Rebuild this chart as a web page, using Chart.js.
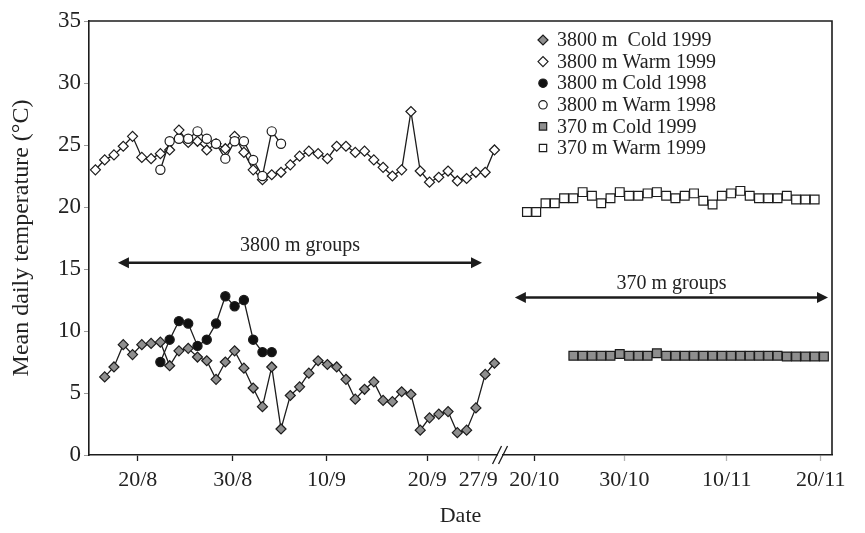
<!DOCTYPE html>
<html><head><meta charset="utf-8">
<style>html,body{margin:0;padding:0;background:#fff}#wrap{width:865px;height:533px;position:relative}</style>
<script src="https://cdn.jsdelivr.net/npm/chart.js@4.4.0/dist/chart.umd.min.js"></script>
</head><body><div id="wrap"><canvas id="c" width="865" height="533"></canvas></div>
<script>
// ---- data (day index on a broken axis) ----
const cold1999_3800 = [6.3,7.1,8.9,8.1,8.9,9.0,9.1,7.2,8.4,8.6,7.9,7.6,6.1,7.5,8.4,7.0,5.4,3.9,7.1,2.1,4.8,5.5,6.6,7.6,7.3,7.1,6.1,4.5,5.3,5.9,4.4,4.3,5.1,4.9,2.0,3.0,3.3,3.5,1.8,2.0,3.8,6.5,7.4];
const warm1999_3800 = [23.0,23.8,24.2,24.9,25.7,24.0,23.9,24.3,24.6,26.2,25.2,25.3,24.6,25.1,24.7,25.7,24.4,23.0,22.2,22.6,22.8,23.4,24.1,24.5,24.3,23.9,24.9,24.9,24.4,24.5,23.8,23.2,22.5,23.0,27.7,22.9,22.0,22.4,22.9,22.1,22.3,22.8,22.8,24.6];
const cold1998_3800 = [7.5,9.3,10.8,10.6,8.8,9.3,10.6,12.8,12.0,12.5,9.3,8.3,8.3];
const warm1998_3800 = [23.0,25.3,25.5,25.5,26.1,25.5,25.1,23.9,25.3,25.3,23.8,22.5,26.1,25.1];
const cold1999_370 = [8.0,8.0,8.0,8.0,8.0,8.15,8.0,8.0,8.0,8.2,8.0,8.0,8.0,8.0,8.0,8.0,8.0,8.0,8.0,8.0,8.0,8.0,8.0,7.95,7.95,7.95,7.95,7.95];
const warm1999_370 = [19.6,19.6,20.3,20.3,20.7,20.7,21.2,20.9,20.3,20.7,21.2,20.9,20.9,21.1,21.2,20.9,20.7,20.9,21.1,20.5,20.2,20.9,21.1,21.3,20.9,20.7,20.7,20.7,20.9,20.6,20.6,20.6];
// first day index of each series (370 m series sit after the axis break)
const breakStart = 45.5;
const startCold1999_3800 = 0, startWarm1999_3800 = -1, startCold1998 = 6, startWarm1998 = 6;
const startWarm370 = breakStart, startCold370 = breakStart + 5;
const tickPositions = [3.56,13.8,23.9,34.76,40.26,46.29,56.0,67.03,77.16];
const tickLabels = ['20/8','30/8','10/9','20/9','27/9','20/10','30/10','10/11','20/11'];
const yTicks = [0,5,10,15,20,25,30,35];
const breakAt = 42.6;
const groupArrows = [
  {label:'3800 m groups', from:1.43, to:40.66, y:15.5, labelY:16.9},
  {label:'370 m groups', from:44.2, to:77.94, y:12.7, labelY:13.8}
];
const legendLabels = ['3800 m  Cold 1999','3800 m Warm 1999','3800 m Cold 1998','3800 m Warm 1998','370 m Cold 1999','370 m Warm 1999'];

const toPts = (arr, s) => arr.map((v,i)=>({x:s+i, y:v}));
const INK = '#1c1c1c', GREY = '#8e8e8e';
const FONT = '"Liberation Serif","Times New Roman",serif';

function ds(label, data, style, fill, r) {
  return {label, data, borderColor: INK, borderWidth: 1.3, pointStyle: style,
    pointRadius: r, pointHoverRadius: r, pointBackgroundColor: fill, pointBorderColor: INK,
    pointBorderWidth: 1.2, tension: 0, fill: false};
}
const datasets = [
  ds(legendLabels[2], toPts(cold1998_3800, startCold1998), 'circle', '#111', 4.6),
  ds(legendLabels[3], toPts(warm1998_3800, startWarm1998), 'circle', '#fff', 4.6),
  ds(legendLabels[0], toPts(cold1999_3800, startCold1999_3800), 'rectRot', GREY, 5),
  ds(legendLabels[1], toPts(warm1999_3800, startWarm1999_3800), 'rectRot', '#fff', 5),
  ds(legendLabels[4], toPts(cold1999_370, startCold370), 'rect', GREY, 6.2),
  ds(legendLabels[5], toPts(warm1999_370, startWarm370), 'rect', '#fff', 6.2)
];
const legendOrder = [2,3,0,1,4,5];

const decor = {
  id: 'decor',
  afterDatasetsDraw(chart) {
    const {ctx, chartArea: a, scales: {x, y}} = chart;
    ctx.save();
    // frame
    ctx.strokeStyle = INK; ctx.lineWidth = 1.6;
    ctx.beginPath(); ctx.moveTo(a.left, a.top); ctx.lineTo(a.right, a.top); ctx.lineTo(a.right, a.bottom); ctx.stroke();
    // axis break
    const bx = x.getPixelForValue(breakAt), by = a.bottom;
    ctx.fillStyle = '#fff'; ctx.fillRect(bx - 2, by - 2, 4, 4);
    ctx.lineWidth = 1.3; ctx.beginPath();
    [-3, 3].forEach(d => { ctx.moveTo(bx + d - 4.5, by + 9); ctx.lineTo(bx + d + 4.5, by - 9); });
    ctx.stroke();
    // group arrows
    groupArrows.forEach(g => {
      const x1 = x.getPixelForValue(g.from), x2 = x.getPixelForValue(g.to), yy = y.getPixelForValue(g.y);
      ctx.strokeStyle = INK; ctx.fillStyle = INK; ctx.lineWidth = 2.6;
      ctx.beginPath(); ctx.moveTo(x1 + 6, yy); ctx.lineTo(x2 - 6, yy); ctx.stroke();
      ctx.beginPath(); ctx.moveTo(x1, yy); ctx.lineTo(x1 + 11, yy - 5.5); ctx.lineTo(x1 + 11, yy + 5.5); ctx.closePath(); ctx.fill();
      ctx.beginPath(); ctx.moveTo(x2, yy); ctx.lineTo(x2 - 11, yy - 5.5); ctx.lineTo(x2 - 11, yy + 5.5); ctx.closePath(); ctx.fill();
      ctx.font = '20px ' + FONT; ctx.textAlign = 'center'; ctx.textBaseline = 'middle'; ctx.fillStyle = '#222';
      ctx.fillText(g.label, (x1 + x2) / 2, y.getPixelForValue(g.labelY));
    });
    // legend
    legendOrder.forEach((di, i) => {
      const d = chart.data.datasets[di];
      const ly = a.top + 19 + i * 21.6, lx = 543;
      ctx.fillStyle = d.pointBackgroundColor; ctx.strokeStyle = INK; ctx.lineWidth = 1.2;
      Chart.helpers.drawPoint(ctx, {pointStyle: d.pointStyle, radius: d.pointStyle === 'rect' ? 5.2 : (d.pointStyle === 'circle' ? 4.2 : 5), rotation: 0, borderWidth: 1.2}, lx, ly);
      ctx.font = '20px ' + FONT; ctx.textAlign = 'left'; ctx.textBaseline = 'middle'; ctx.fillStyle = '#222';
      ctx.fillText(d.label, 557, ly + 1);
    });
    ctx.restore();
  }
};

new Chart(document.getElementById('c'), {
  type: 'line',
  data: {datasets},
  options: {
    responsive: false, animation: false, devicePixelRatio: 1,
    layout: {padding: {top: 21, right: 33, left: 0, bottom: 0}},
    plugins: {legend: {display: false}, tooltip: {enabled: false}},
    scales: {
      x: {
        type: 'linear', min: -1.69, max: 78.37,
        afterBuildTicks: s => { s.ticks = tickPositions.map(v => ({value: v})); },
        afterFit: s => { s.height = 78; },
        grid: {drawOnChartArea: false, drawTicks: true, tickLength: 6, tickWidth: 1.3,
               tickColor: c => (c.index === 4 || c.index >= 6) ? '#b5b5b5' : INK},
        border: {display: true, color: INK, width: 1.6},
        ticks: {autoSkip: false, maxRotation: 0, padding: 6, color: '#222',
                font: {family: FONT, size: 22}, callback: (v, i) => tickLabels[i]},
        title: {display: true, text: 'Date', color: '#222', font: {family: FONT, size: 22}, padding: {top: 8}}
      },
      y: {
        min: 0, max: 35,
        afterBuildTicks: s => { s.ticks = yTicks.map(v => ({value: v})); },
        afterFit: s => { s.width = 89; },
        grid: {drawOnChartArea: false, drawTicks: true, tickLength: 5, tickWidth: 1, tickColor: '#9a9a9a'},
        border: {display: true, color: INK, width: 1.6},
        ticks: {padding: 3, color: '#222', font: {family: FONT, size: 23}},
        title: {display: true, text: 'Mean daily temperature (°C)', color: '#222', font: {family: FONT, size: 24}, padding: {top: 7, bottom: 0}}
      }
    }
  },
  plugins: [decor]
});
</script></body></html>
